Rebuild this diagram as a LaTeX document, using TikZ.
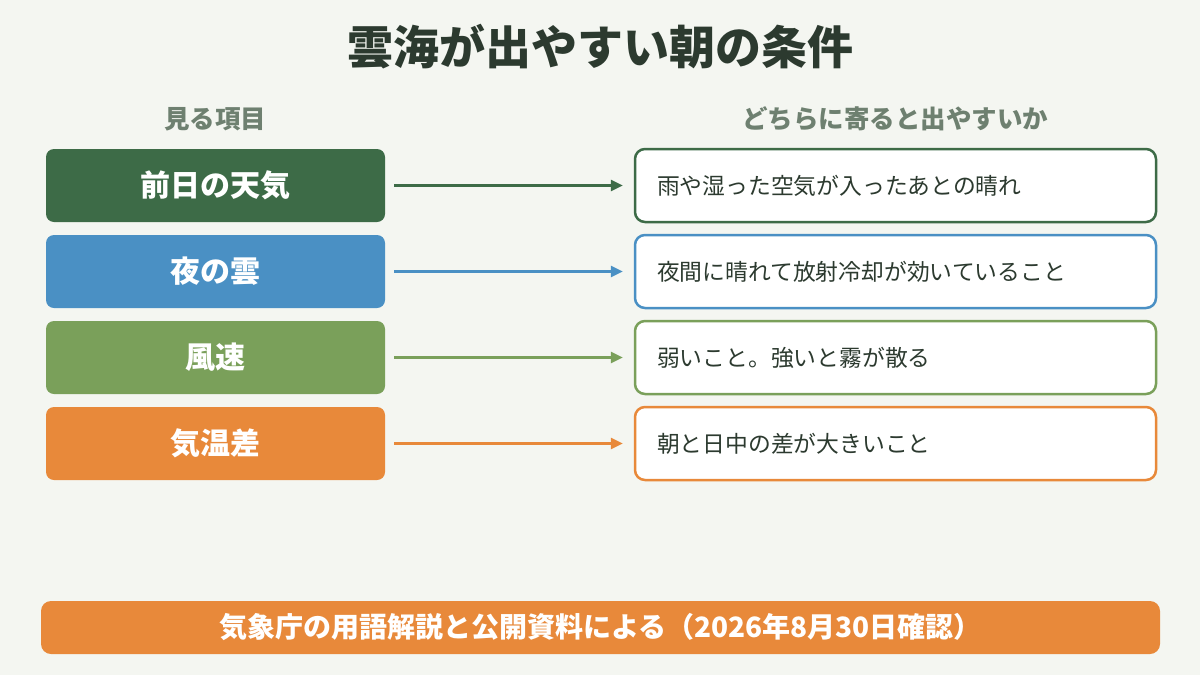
\documentclass[tikz,border=0pt]{standalone}
\usepackage{fontspec}
\setmainfont{Noto Sans CJK JP}
\usepackage{tikz}
\usetikzlibrary{arrows.meta, positioning}
\usepackage{xcolor}
\definecolor{fundo}{HTML}{F4F6F1}
\definecolor{tinta}{HTML}{2C3A2F}
\definecolor{cinza}{HTML}{6E8070}
\definecolor{verde}{HTML}{3D6B47}
\definecolor{azul}{HTML}{4A90C4}
\definecolor{oliva}{HTML}{7AA05A}
\definecolor{laranja}{HTML}{E8893A}
\tikzset{
    item/.style={fill=#1, rounded corners=8pt, minimum width=339pt, minimum height=73pt,
        text=white, font=\fontsize{30}{34}\selectfont\bfseries},
    dica/.style={draw=#1, line width=2.5pt, fill=white, rounded corners=10pt,
        minimum width=521pt, minimum height=73pt, inner xsep=22pt, text width=477pt,
        align=left, text=tinta, font=\fontsize{22.8}{26}\selectfont},
    seta/.style={draw=#1, line width=2.5pt, -{Triangle[length=12pt,width=11pt]},
        shorten <=9pt, shorten >=11pt},
    cabeca/.style={text=cinza, font=\fontsize{25.5}{29}\selectfont\bfseries}
}

\begin{document}
\begin{tikzpicture}[x=1pt, y=-1pt]
    \useasboundingbox (0,0) rectangle (1200,675);
    \fill[fundo] (0,0) rectangle (1200,675);

    \node[text=tinta, font=\fontsize{46}{50}\selectfont\bfseries] (titulo) at (600,47) {雲海が出やすい朝の条件};
    \node[cabeca] (hitem) at (215,119) {見る項目};
    \node[cabeca] (hdica) at (895,119) {どちらに寄ると出やすいか};

    \node[item=verde] (dia) at (215.5,185.5) {前日の天気};
    \node[item=azul] (noite) at (215.5,271.5) {夜の雲};
    \node[item=oliva] (vento) at (215.5,357.5) {風速};
    \node[item=laranja] (temp) at (215.5,443.5) {気温差};

    \node[dica=verde] (rdia) at (895.5,185.5) {雨や湿った空気が入ったあとの晴れ};
    \node[dica=azul] (rnoite) at (895.5,271.5) {夜間に晴れて放射冷却が効いていること};
    \node[dica=oliva] (rvento) at (895.5,357.5) {弱いこと。強いと霧が散る};
    \node[dica=laranja] (rtemp) at (895.5,443.5) {朝と日中の差が大きいこと};

    \draw[seta=verde] (dia) -- (rdia);
    \draw[seta=azul] (noite) -- (rnoite);
    \draw[seta=oliva] (vento) -- (rvento);
    \draw[seta=laranja] (temp) -- (rtemp);

    \node[fill=laranja, rounded corners=10pt, minimum width=1119pt, minimum height=53pt,
        text=white, font=\fontsize{28}{32}\selectfont\bfseries] (fonte) at (600.5,627.5)
        {気象庁の用語解説と公開資料による（2026年8月30日確認）};
\end{tikzpicture}
\end{document}
